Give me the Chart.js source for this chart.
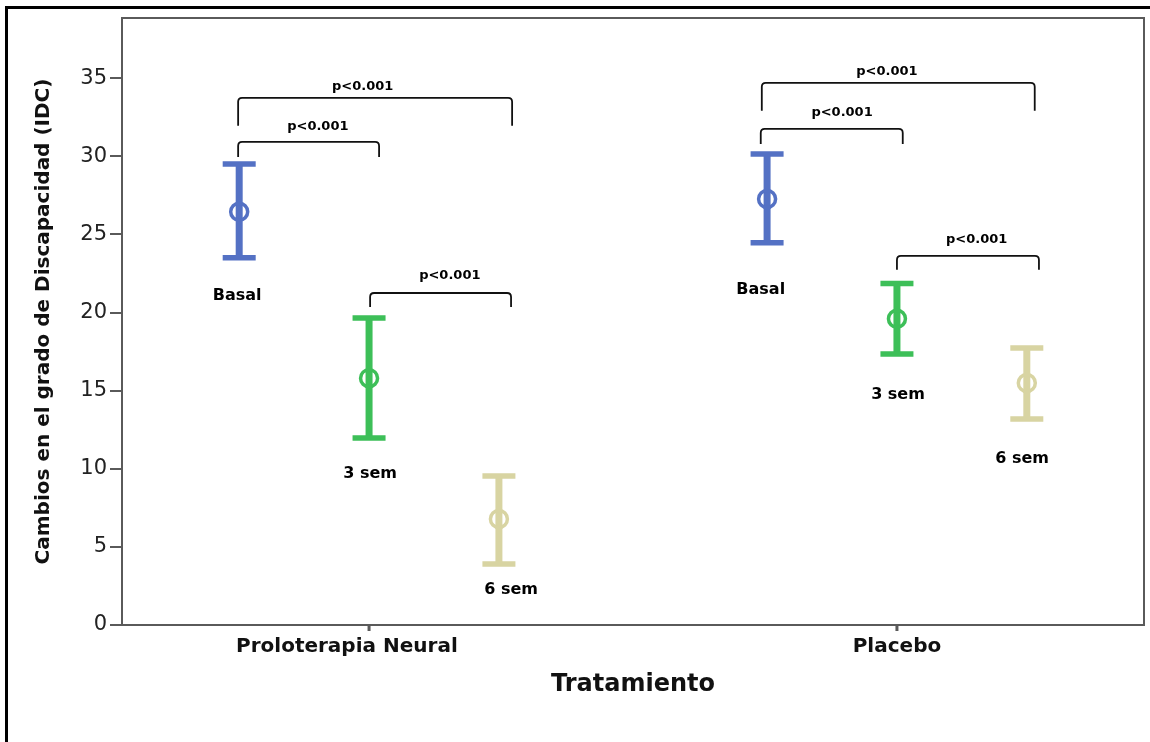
<!DOCTYPE html>
<html>
<head>
<meta charset="utf-8">
<script src="https://cdn.jsdelivr.net/npm/chart.js@4.4.1/dist/chart.umd.min.js"></script>
<style>
  html, body { margin: 0; padding: 0; background: #fff; }
  #wrap { position: relative; width: 1150px; height: 742px; }
  #frame { position: absolute; left: 5px; top: 6px; width: 1145px; height: 736px;
           border-top: 3px solid #000; border-left: 3px solid #000; box-sizing: border-box; pointer-events: none; }
</style>
</head>
<body>
<div id="wrap">
  <canvas id="chart" width="1150" height="742"></canvas>
  <div id="frame"></div>
</div>
<script>
// groups on the x axis (centre of each group = 1, 2)
const groups = ['Proloterapia Neural', 'Placebo'];
const groupCenters = [1, 2];
const groupLabelPos = [0.958, 2.0]; // where the category text sits
const xMin = 0.532, xMax = 2.468;

// time points inside each group
const times = ['Basal', '3 sem', '6 sem'];
const timeOffsets = [-0.246, 0, 0.246];
const timeColors = ['#5471C4', '#3DBF58', '#D8D4A2'];

// mean and 95% CI, one value per group
const basalMean = [26.45, 27.27];
const basalLow = [23.5, 24.46];
const basalHigh = [29.5, 30.15];

const sem3Mean = [15.8, 19.6];
const sem3Low = [11.97, 17.35];
const sem3High = [19.65, 21.85];

const sem6Mean = [6.79, 15.49];
const sem6Low = [3.9, 13.19];
const sem6High = [9.54, 17.73];

// where the "Basal" / "3 sem" / "6 sem" captions sit (x, y in data units)
const basalLabelX = [0.750, 1.742];
const basalLabelY = [21.06, 21.45];
const sem3LabelX = [1.002, 2.002];
const sem3LabelY = [9.67, 14.72];
const sem6LabelX = [1.269, 2.237];
const sem6LabelY = [2.24, 10.63];

// y axis
const yTicks = [0, 5, 10, 15, 20, 25, 30, 35];
const yMax = 38.85;

// significance brackets: [x1, x2, yTop, yEnd, labelX, labelY, text]
const brackets = [
    [0.752, 1.019, 30.92, 29.96, 0.903, 31.88, 'p<0.001'],
    [0.752, 1.271, 33.74, 31.95, 0.988, 34.44, 'p<0.001'],
    [1.002, 1.269, 21.25, 20.36, 1.153, 22.34, 'p<0.001'],
    [1.742, 2.011, 31.75, 30.79, 1.896, 32.78, 'p<0.001'],
    [1.744, 2.261, 34.70, 32.91, 1.981, 35.40, 'p<0.001'],
    [2.000, 2.269, 23.62, 22.73, 2.151, 24.65, 'p<0.001']
];

const means = [basalMean, sem3Mean, sem6Mean];
const lows = [basalLow, sem3Low, sem6Low];
const highs = [basalHigh, sem3High, sem6High];
const captionX = [basalLabelX, sem3LabelX, sem6LabelX];
const captionY = [basalLabelY, sem3LabelY, sem6LabelY];

const FONT = "'DejaVu Sans', Verdana, sans-serif";

const datasets = times.map((t, i) => ({
    label: t,
    data: groupCenters.map((c, j) => ({ x: c + timeOffsets[i], y: means[i][j] })),
    borderColor: timeColors[i],
    backgroundColor: 'rgba(0,0,0,0)',
    pointRadius: 8.5,
    pointHoverRadius: 8.5,
    pointBorderWidth: 3.5,
    showLine: false
}));

// error bars drawn under the mean circles
const errorBars = {
    id: 'errorBars',
    beforeDatasetsDraw(chart) {
        const ctx = chart.ctx;
        const xs = chart.scales.x, ys = chart.scales.y;
        ctx.save();
        times.forEach((t, i) => {
            ctx.strokeStyle = timeColors[i];
            groupCenters.forEach((c, j) => {
                const x = xs.getPixelForValue(c + timeOffsets[i]);
                const yl = ys.getPixelForValue(lows[i][j]);
                const yh = ys.getPixelForValue(highs[i][j]);
                ctx.lineWidth = 7;
                ctx.beginPath();
                ctx.moveTo(x, yl);
                ctx.lineTo(x, yh);
                ctx.stroke();
                ctx.lineWidth = 5.5;
                ctx.beginPath();
                ctx.moveTo(x - 16.5, yl); ctx.lineTo(x + 16.5, yl);
                ctx.moveTo(x - 16.5, yh); ctx.lineTo(x + 16.5, yh);
                ctx.stroke();
            });
        });
        ctx.restore();
    },
    afterDatasetsDraw(chart) {
        const ctx = chart.ctx;
        const xs = chart.scales.x, ys = chart.scales.y;
        ctx.save();
        // captions under each bar
        ctx.fillStyle = '#000';
        ctx.font = 'bold 16px ' + FONT;
        ctx.textAlign = 'center';
        ctx.textBaseline = 'middle';
        times.forEach((t, i) => {
            groupCenters.forEach((c, j) => {
                ctx.fillText(t, xs.getPixelForValue(captionX[i][j]), ys.getPixelForValue(captionY[i][j]));
            });
        });
        // brackets
        ctx.strokeStyle = '#111';
        ctx.lineWidth = 1.8;
        ctx.font = 'bold 13px ' + FONT;
        brackets.forEach(b => {
            const x1 = xs.getPixelForValue(b[0]);
            const x2 = xs.getPixelForValue(b[1]);
            const yt = ys.getPixelForValue(b[2]);
            const ye = ys.getPixelForValue(b[3]);
            const r = 4;
            ctx.beginPath();
            ctx.moveTo(x1, ye);
            ctx.lineTo(x1, yt + r);
            ctx.quadraticCurveTo(x1, yt, x1 + r, yt);
            ctx.lineTo(x2 - r, yt);
            ctx.quadraticCurveTo(x2, yt, x2, yt + r);
            ctx.lineTo(x2, ye);
            ctx.stroke();
            ctx.fillText(b[6], xs.getPixelForValue(b[4]), ys.getPixelForValue(b[5]));
        });
        ctx.restore();
    },
    afterDraw(chart) {
        const ctx = chart.ctx;
        const a = chart.chartArea;
        const xs = chart.scales.x;
        ctx.save();
        ctx.strokeStyle = '#5a5a5a';
        ctx.lineWidth = 2;
        // top and right edges of the plot frame
        ctx.beginPath();
        ctx.moveTo(a.left, a.top);
        ctx.lineTo(a.right, a.top);
        ctx.lineTo(a.right, a.bottom);
        ctx.stroke();
        // small tick marks at the group centres
        ctx.lineWidth = 3;
        ctx.beginPath();
        groupCenters.forEach(c => {
            const x = xs.getPixelForValue(c);
            ctx.moveTo(x, a.bottom);
            ctx.lineTo(x, a.bottom + 6);
        });
        ctx.stroke();
        ctx.restore();
    }
};

new Chart(document.getElementById('chart'), {
    type: 'scatter',
    data: { datasets: datasets },
    options: {
        responsive: false,
        animation: false,
        events: [],
        layout: { autoPadding: false, padding: { left: 32, right: 6, top: 18, bottom: 43 } },
        plugins: {
            legend: { display: false },
            tooltip: { enabled: false }
        },
        scales: {
            x: {
                type: 'linear',
                min: xMin,
                max: xMax,
                afterBuildTicks: axis => { axis.ticks = groupLabelPos.map(v => ({ value: v })); },
                afterFit: axis => { axis.height = 74; axis.paddingLeft = 0; axis.paddingRight = 0; },
                border: { display: true, color: '#5a5a5a', width: 2 },
                grid: { drawOnChartArea: false, drawTicks: false },
                ticks: {
                    autoSkip: false,
                    maxRotation: 0,
                    padding: 10,
                    color: '#111',
                    font: { family: FONT, size: 20, weight: 'bold' },
                    callback: (v, i) => groups[i]
                },
                title: {
                    display: true,
                    text: 'Tratamiento',
                    color: '#111',
                    padding: 0,
                    font: { family: FONT, size: 24, weight: 'bold' }
                }
            },
            y: {
                min: 0,
                max: yMax,
                afterBuildTicks: axis => { axis.ticks = yTicks.map(v => ({ value: v })); },
                afterFit: axis => { axis.width = 90; axis.paddingTop = 0; axis.paddingBottom = 0; },
                border: { display: true, color: '#5a5a5a', width: 2 },
                grid: { drawOnChartArea: false, drawTicks: true, tickLength: 12, color: '#5a5a5a', lineWidth: 2 },
                ticks: {
                    padding: 3,
                    color: '#222',
                    font: { family: FONT, size: 21 }
                },
                title: {
                    display: true,
                    text: 'Cambios en el grado de Discapacidad (IDC)',
                    color: '#111',
                    padding: 0,
                    font: { family: FONT, size: 20, weight: 'bold' }
                }
            }
        }
    },
    plugins: [errorBars]
});
</script>
</body>
</html>
